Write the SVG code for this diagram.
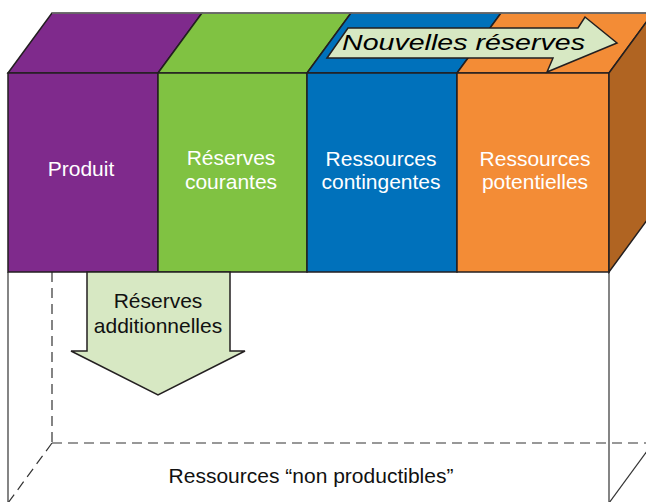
<svg xmlns="http://www.w3.org/2000/svg" width="646" height="502" viewBox="0 0 646 502">
<style>
.blk{stroke:#231f20;stroke-width:1.5;stroke-linejoin:miter}
.ln{stroke:#333;stroke-width:1.2;fill:none}
.dash{stroke:#333;stroke-width:1.2;fill:none;stroke-dasharray:10,6}
.lbl{font-family:"Liberation Sans",Arial,sans-serif;font-size:21px;fill:#fff;text-anchor:middle}
.dk{font-family:"Liberation Sans",Arial,sans-serif;font-size:21px;fill:#111;text-anchor:middle}
.arr{fill:#d7e8c3;stroke:#231f20;stroke-width:1.5}
</style>
<rect width="646" height="502" fill="#fff"/>
<g id="base">
<line class="dash" x1="52" y1="272" x2="52" y2="443"/>
<line class="dash" x1="52" y1="443" x2="646" y2="443"/>
<line class="dash" x1="52" y1="443" x2="8" y2="503"/>
<line class="ln" x1="8" y1="272" x2="8" y2="503"/>
<line class="ln" x1="609" y1="272" x2="609" y2="503"/>
<line class="ln" x1="609" y1="503" x2="653" y2="443"/>
<text class="dk" x="311" y="483">Ressources “non productibles”</text>
</g>
<g id="produit">
<polygon class="blk" fill="#7f2a8c" points="8,73 52,13 202,13 158,73"/>
<rect class="blk" fill="#7f2a8c" x="8" y="73" width="150" height="199"/>
<text class="lbl" x="81" y="176">Produit</text>
</g>
<g id="reserves-courantes">
<polygon class="blk" fill="#80c242" points="158,73 202,13 351,13 307,73"/>
<rect class="blk" fill="#80c242" x="158" y="73" width="149" height="199"/>
<text class="lbl" x="231" y="165">Réserves</text>
<text class="lbl" x="231" y="189">courantes</text>
</g>
<g id="ressources-contingentes">
<polygon class="blk" fill="#0071bb" points="307,73 351,13 501,13 457,73"/>
<rect class="blk" fill="#0071bb" x="307" y="73" width="150" height="199"/>
<text class="lbl" x="381" y="166">Ressources</text>
<text class="lbl" x="381" y="189">contingentes</text>
</g>
<g id="ressources-potentielles">
<polygon class="blk" fill="#f38c36" points="457,73 501,13 653,13 609,73"/>
<rect class="blk" fill="#f38c36" x="457" y="73" width="152" height="199"/>
<polygon class="blk" fill="#b06422" points="609,73 653,13 653,212 609,272"/>
<text class="lbl" x="535" y="166">Ressources</text>
<text class="lbl" x="535" y="189">potentielles</text>
</g>
<line x1="52" y1="13" x2="646" y2="13" stroke="#777" stroke-width="1.5"/>
<g id="connectors">
<g id="nouvelles-reserves">
<polygon class="arr" points="327,58 348,28 578,28 585,17 617,43 547,72 553,58"/>
<text x="342" y="50" font-family="Liberation Sans,Arial,sans-serif" font-style="italic" font-size="22" fill="#000" textLength="243" lengthAdjust="spacingAndGlyphs">Nouvelles réserves</text>
</g>
<g id="reserves-additionnelles">
<polygon class="arr" points="87,272 230,272 230,351 245,351 158,395 71,351 87,351"/>
<text class="dk" x="158" y="308">Réserves</text>
<text class="dk" x="158" y="333">additionnelles</text>
</g>
</g>
</svg>
